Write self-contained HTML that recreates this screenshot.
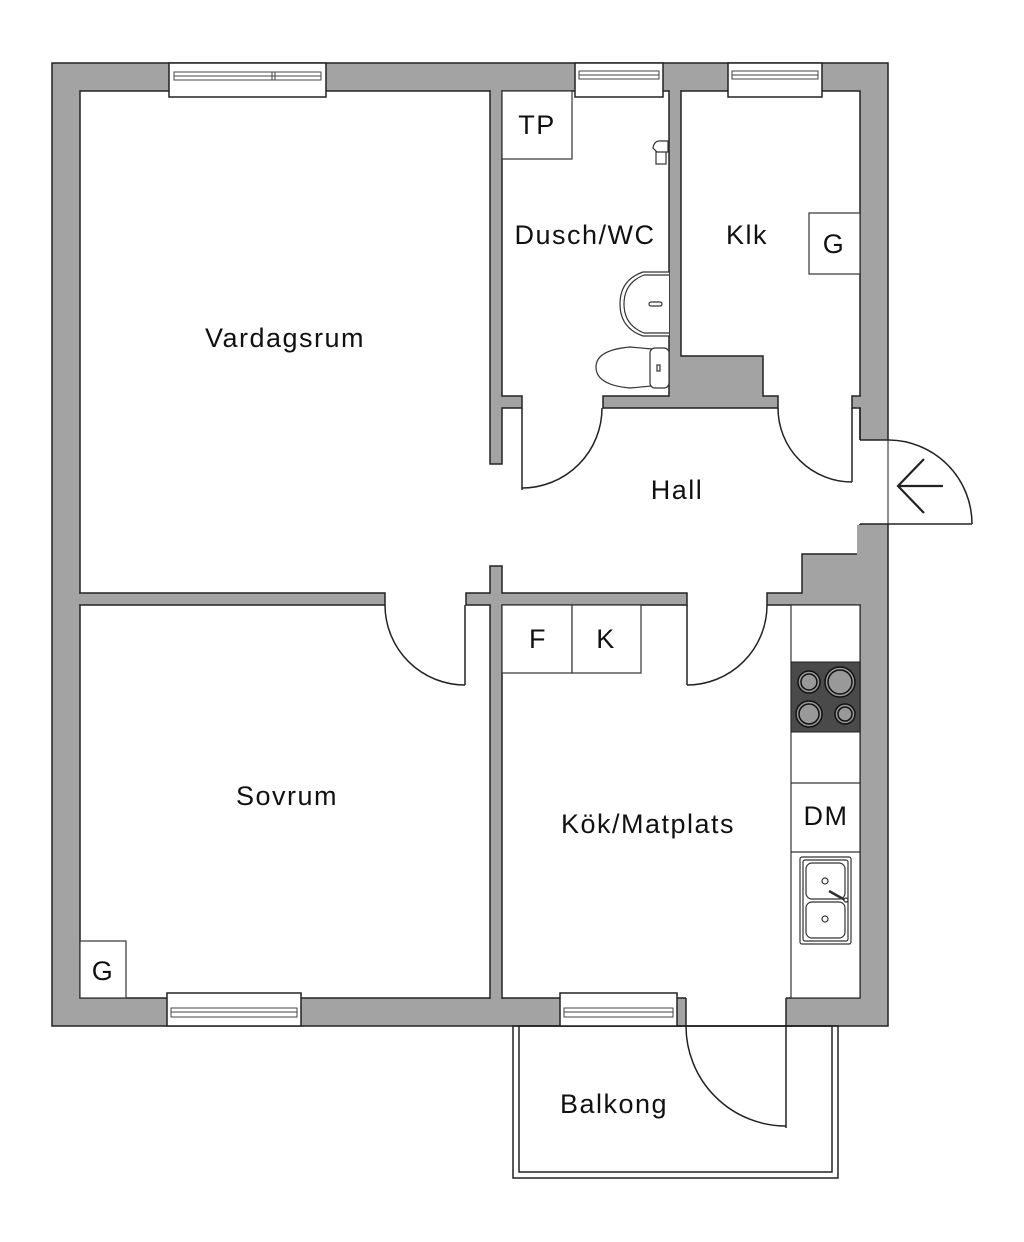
<!DOCTYPE html>
<html><head><meta charset="utf-8"><style>
html,body{margin:0;padding:0;background:#fff;}
svg{display:block;}
text{font-family:"Liberation Sans",sans-serif;fill:#111;}
</style></head><body>
<svg width="1024" height="1242" viewBox="0 0 1024 1242" xmlns="http://www.w3.org/2000/svg">
<g stroke="#222" stroke-width="1.5">
<rect x="52" y="63" width="836" height="963" fill="#a3a3a3"/>
<rect x="80" y="91" width="780" height="907" fill="#fff"/>
<polygon fill="#a3a3a3" points="490,91 502,91 502,396 522,396 522,408 502,408 502,464 490,464"/>
<polygon fill="#a3a3a3" points="669,91 681,91 681,356 763,356 763,396 778,396 778,408 603,408 603,396 669,396"/>
<rect x="852" y="396" width="8" height="12" fill="#a3a3a3"/>
<polygon fill="#a3a3a3" points="860,524 860,554 802,554 802,593 767,593 767,605 860,605"/>
<polygon fill="#a3a3a3" points="490,566 502,566 502,593 687,593 687,605 502,605 502,998 490,998 490,605 466,605 466,593 490,593"/>
<rect x="80" y="593" width="305" height="12" fill="#a3a3a3"/>
</g>
<g fill="#a3a3a3">
<rect x="490.8" y="88" width="10.4" height="6"/>
<rect x="669.8" y="88" width="10.4" height="6"/>
<rect x="77" y="593.8" width="6" height="10.4"/>
<rect x="490.8" y="995" width="10.4" height="6"/>
<rect x="857" y="525" width="6" height="79.3"/>
<rect x="857" y="396.8" width="6" height="10.4"/>
</g>
<rect x="859" y="440" width="30" height="84" fill="#fff"/>
<g stroke="#222" stroke-width="1.5" fill="none">
<line x1="860" y1="440" x2="888" y2="440"/>
<line x1="860" y1="524" x2="972" y2="524"/>
<line x1="888" y1="440" x2="888" y2="524" stroke-width="1"/>
<line x1="860" y1="408" x2="860" y2="440"/>
<path d="M888,440 A84,84 0 0 1 972,524"/>
<path d="M943,486 L898,486 M924,459 L898,486 L924,513" stroke-width="2.2"/>
</g>
<rect x="686" y="997" width="100" height="30" fill="#fff"/>
<g stroke="#222" stroke-width="1.5" fill="none">
<line x1="686" y1="998" x2="686" y2="1026"/>
<line x1="786" y1="998" x2="786" y2="1128"/>
<path d="M686,1026 A100,100 0 0 0 786,1126"/>
<rect x="513" y="1026" width="325" height="152"/>
<rect x="519" y="1026" width="313" height="146"/>
<line x1="686" y1="1026" x2="786" y2="1026"/>
</g>
<g stroke="#222" stroke-width="1.5" fill="none">
<line x1="522" y1="408" x2="522" y2="490"/>
<path d="M602,408 A80,80 0 0 1 522,488"/>
<line x1="852" y1="408" x2="852" y2="482"/>
<path d="M778,408 A74,74 0 0 0 852,482"/>
<line x1="465" y1="605" x2="465" y2="685"/>
<path d="M385,605 A80,80 0 0 0 465,685"/>
<line x1="687" y1="605" x2="687" y2="685"/>
<path d="M767,605 A80,80 0 0 1 687,685"/>
</g>
<g stroke="#222" stroke-width="1.5" fill="#fff">
<rect x="169" y="63" width="157" height="34"/>
<rect x="575" y="63" width="88" height="34"/>
<rect x="728" y="63" width="94" height="34"/>
<rect x="167" y="993" width="134" height="33"/>
<rect x="560" y="993" width="117" height="33"/>
</g>
<g stroke="#444" stroke-width="1" fill="none">
<rect x="174" y="72" width="147" height="8"/><line x1="174" y1="76" x2="321" y2="76"/><line x1="272" y1="72" x2="272" y2="80"/><line x1="275" y1="72" x2="275" y2="80"/>
<rect x="579" y="71" width="80" height="8"/><line x1="579" y1="75" x2="659" y2="75"/>
<rect x="732" y="71" width="86" height="8"/><line x1="732" y1="75" x2="818" y2="75"/>
<rect x="171" y="1008" width="126" height="9"/><line x1="171" y1="1012" x2="297" y2="1012"/>
<rect x="564" y="1008" width="109" height="9"/><line x1="564" y1="1012" x2="673" y2="1012"/>
</g>
<g stroke="#333" stroke-width="1.2" fill="#fff">
<rect x="502" y="91" width="70" height="68"/>
<rect x="809" y="213" width="51" height="61"/>
<rect x="502" y="605" width="70" height="68"/>
<rect x="572" y="605" width="69" height="68"/>
<rect x="80" y="941" width="46" height="57"/>
<rect x="791" y="605" width="69" height="393"/>
<line x1="791" y1="783" x2="860" y2="783"/>
<line x1="791" y1="852" x2="860" y2="852"/>
</g>
<rect x="791" y="662" width="69" height="70" fill="#4a4a4a" stroke="#222"/>
<g fill="#999" stroke="#111" stroke-width="1.5">
<circle cx="809" cy="682" r="11"/><circle cx="809" cy="682" r="8" fill="none"/>
<circle cx="840" cy="682" r="15"/><circle cx="840" cy="682" r="12" fill="none"/>
<circle cx="809" cy="714" r="13"/><circle cx="809" cy="714" r="10" fill="none"/>
<circle cx="845" cy="714" r="10"/><circle cx="845" cy="714" r="7" fill="none"/>
</g>
<g stroke="#333" stroke-width="1.2" fill="#fff">
<rect x="800" y="857" width="51" height="87" rx="2"/>
<rect x="803" y="860" width="45" height="81" rx="2"/>
<rect x="806" y="863" width="39" height="36" rx="6"/>
<rect x="806" y="902" width="39" height="36" rx="6"/>
<circle cx="825" cy="881" r="3"/><circle cx="825" cy="919" r="3"/>
<line x1="829" y1="891" x2="845" y2="900" stroke-width="2.5"/>
<circle cx="846" cy="900" r="2"/>
</g>
<g stroke="#333" stroke-width="1.2" fill="#fff">
<path d="M669,272 L643,272 Q620,280 620,304 Q620,328 643,336 L669,336"/>
<path d="M669,275 L644,275 Q624,283 624,304 Q624,325 644,333 L669,333" fill="none"/>
<rect x="649" y="302" width="13" height="4" rx="2"/>
<path d="M652,349 L630,347 Q596,350 596,367 Q596,385 630,388 L652,386 Z"/>
<rect x="650" y="348" width="19" height="40" rx="5"/>
<rect x="657" y="365" width="3" height="6"/>
<rect x="656" y="148" width="10" height="16"/>
<path d="M653,148 Q654,140 662,141 L668,141 L668,152 L657,152 Z"/>
</g>
<g font-size="27" text-anchor="middle" letter-spacing="1.5">
<text x="285" y="347">Vardagsrum</text>
<text x="585" y="244">Dusch/WC</text>
<text x="747" y="244">Klk</text>
<text x="677" y="499">Hall</text>
<text x="287" y="805">Sovrum</text>
<text x="648" y="833">Kök/Matplats</text>
<text x="614" y="1113">Balkong</text>
<text x="537" y="134">TP</text>
<text x="834" y="253">G</text>
<text x="538" y="648">F</text>
<text x="606" y="648">K</text>
<text x="103" y="980">G</text>
<text x="826" y="825">DM</text>
</g>
</svg>
</body></html>
